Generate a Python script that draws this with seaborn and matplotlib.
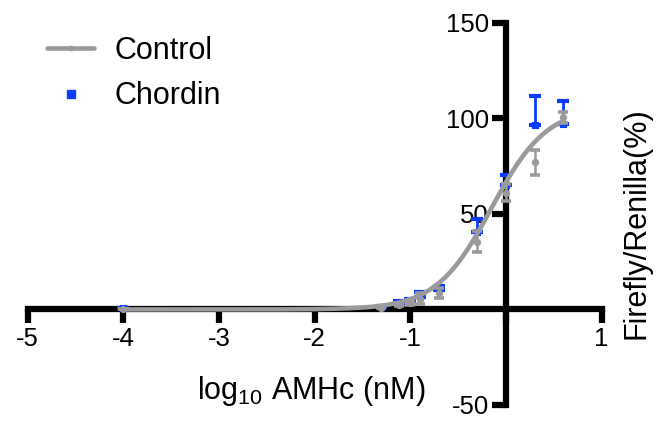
import numpy as np
import pandas as pd
import seaborn as sns
import matplotlib
matplotlib.use("Agg")
import matplotlib.pyplot as plt
from matplotlib.lines import Line2D

# log10 of AMHc concentration (nM)
log_conc = [-4.0, -1.30, -1.12, -1.0, -0.90, -0.70, -0.30, 0.0, 0.30, 0.60]

# Control: mean and SD (% Firefly/Renilla)
control_mean = [0.0, 1.0, 2.5, 3.5, 5.6, 8.6, 35.5, 61.0, 77.0, 100.5]
control_sd = [0.0, 0.5, 0.8, 1.0, 3.0, 2.6, 5.3, 4.4, 6.5, 3.0]

# Chordin: mean and upper error
chordin_mean = [0.5, 1.5, 3.5, 4.5, 6.5, 10.0, 40.5, 65.0, 96.5, 97.0]
chordin_err = [0.0, 0.5, 0.8, 1.0, 2.5, 2.0, 7.0, 5.5, 15.0, 12.0]

# Four-parameter logistic fit of the control response
fit_bottom = 0.0
fit_top = 106.0
fit_log_ec50 = -0.15
fit_hill = 1.5

x_ticks = [-5, -4, -3, -2, -1, 0, 1]
x_tick_labels = ["-5", "-4", "-3", "-2", "-1", "", "1"]
y_ticks = [-50, 50, 100, 150]
y_tick_labels = ["-50", "50", "100", "150"]

GRAY = "#9a9a9a"
BLUE = "#0a3cff"

sns.set_theme(style="ticks")
plt.rcParams["font.family"] = ["Liberation Sans", "DejaVu Sans"]
plt.rcParams["mathtext.fontset"] = "custom"
plt.rcParams["mathtext.rm"] = "Liberation Sans"
plt.rcParams["mathtext.it"] = "Liberation Sans:italic"
plt.rcParams["text.color"] = "black"

fig = plt.figure(figsize=(6.59, 4.21), dpi=100)
ax = fig.add_axes([27.5 / 659, 16 / 421, 574 / 659, 382.3 / 421])

ctrl = pd.DataFrame({"x": log_conc, "y": control_mean, "sd": control_sd})
chor = pd.DataFrame({"x": log_conc, "y": chordin_mean, "err": chordin_err})

# Chordin points with upward error bars
ax.errorbar(chor["x"], chor["y"], yerr=[np.zeros(len(chor)), chor["err"]],
            fmt="none", ecolor=BLUE, elinewidth=2.0, capsize=4.3, capthick=3.0,
            zorder=3, clip_on=False)
sns.scatterplot(data=chor, x="x", y="y", ax=ax, marker="s", s=16, color=BLUE,
                edgecolor=BLUE, linewidth=0.8, zorder=3, clip_on=False)

# Fitted control curve
xs = np.linspace(log_conc[0], log_conc[-1], 300)
ys = fit_bottom + (fit_top - fit_bottom) / (1 + 10 ** ((fit_log_ec50 - xs) * fit_hill))
sns.lineplot(x=xs, y=ys, ax=ax, color=GRAY, linewidth=3.3, zorder=4)

# Control points with SD bars
ax.errorbar(ctrl["x"], ctrl["y"], yerr=ctrl["sd"], fmt="none", ecolor=GRAY,
            elinewidth=1.8, capsize=3.6, capthick=2.6, zorder=5, clip_on=False)
sns.scatterplot(data=ctrl, x="x", y="y", ax=ax, marker="o", s=28, color=GRAY,
                edgecolor=GRAY, linewidth=0, zorder=5, clip_on=False)

ax.set_xlim(-5, 1)
ax.set_ylim(-50, 150)
for side in ("top", "right"):
    ax.spines[side].set_visible(False)
ax.spines["left"].set_position(("data", 0))
ax.spines["bottom"].set_position(("data", 0))
for side in ("left", "bottom"):
    ax.spines[side].set_linewidth(4.5)
    ax.spines[side].set_color("black")
    ax.spines[side].set_capstyle("projecting")

ax.set_xticks(x_ticks)
ax.set_xticklabels(x_tick_labels)
ax.set_yticks(y_ticks)
ax.set_yticklabels(y_tick_labels)
ax.tick_params(axis="both", direction="out", length=10, width=4.5,
               color="black", labelsize=18.5, labelcolor="black")
ax.tick_params(axis="x", pad=3)
ax.tick_params(axis="y", pad=2)
ax.set_xlabel("")
ax.set_ylabel("")

fig.text(311 / 659, 1 - 399 / 421, r"log$_{\mathrm{10}}$ AMHc (nM)",
         ha="center", va="baseline", fontsize=22, color="black")
fig.text(637 / 659, 1 - 223 / 421, "Firefly/Renilla(%)", rotation=90,
         ha="center", va="center", fontsize=22, color="black")

handles = [
    Line2D([], [], color=GRAY, linewidth=3.3, marker="o", markersize=3),
    Line2D([], [], color=BLUE, linestyle="none", marker="s", markersize=5.5),
]
leg = fig.legend(handles, ["Control", "Chordin"], loc="upper left",
                 bbox_to_anchor=(47 / 659, 1 - 36 / 421), bbox_transform=fig.transFigure,
                 frameon=False, borderpad=0, borderaxespad=0, handlelength=1.55,
                 handletextpad=0.65, labelspacing=0.5, fontsize=22)
for t in leg.get_texts():
    t.set_color("black")

fig.savefig("out.png", dpi=100)
